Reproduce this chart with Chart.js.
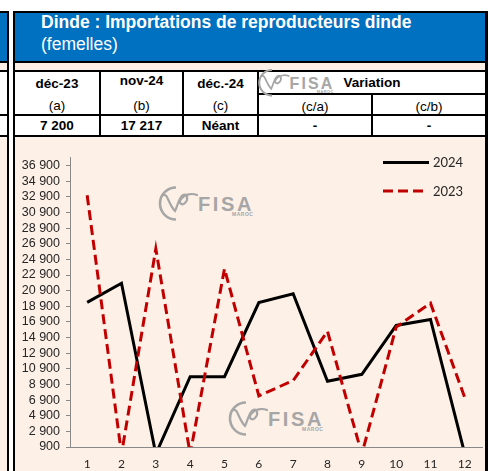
<!DOCTYPE html>
<html lang="fr">
<head>
<meta charset="utf-8">
<title>Dinde : Importations de reproducteurs dinde (femelles)</title>
<script src="https://cdn.jsdelivr.net/npm/chart.js@4.4.1/dist/chart.umd.min.js"></script>
<style>
  html, body { margin: 0; padding: 0; background: #fff; }
  body { width: 495px; height: 471px; position: relative; overflow: hidden; font-family: "Liberation Sans", Arial, sans-serif; }
  .ln { position: absolute; background: #000; }
  .blue { position: absolute; background: #0070c0; }
  .peach { position: absolute; background: #fdf0e6; }
  .title { position: absolute; left: 41px; top: 11px; color: #fff; font-size: 17.5px; line-height: 22px; white-space: nowrap; }
  .txt { position: absolute; text-align: center; font-size: 13.5px; line-height: 16px; color: #000; white-space: nowrap; }
  .b { font-weight: bold; }
  .wm { position: absolute; width: 100px; height: 36px; transform-origin: 0 0; }
  .wm svg { position: absolute; left: 0; top: 0; }
  .wm .fisa { position: absolute; left: 42px; top: 9.4px; font-size: 20px; line-height: 20px; font-weight: bold; letter-spacing: 2.6px; color: #a6a6a6; }
  .wm .maroc { position: absolute; left: 76px; top: 27px; font-size: 5px; line-height: 5px; font-weight: bold; letter-spacing: 0.5px; color: #a6a6a6; }
  #chartBox { position: absolute; left: 15px; top: 137px; width: 470px; height: 334px; }
</style>
</head>
<body>
<!-- left neighbour panel -->
<div class="blue" style="left:0;top:13px;width:7px;height:48px"></div>
<div class="peach" style="left:0;top:63px;width:7px;height:7px"></div>
<div class="peach" style="left:0;top:137px;width:7px;height:334px"></div>
<div class="ln" style="left:0;top:11px;width:9px;height:2px"></div>
<div class="ln" style="left:0;top:61px;width:9px;height:2px"></div>
<div class="ln" style="left:0;top:70px;width:9px;height:2px"></div>
<div class="ln" style="left:0;top:114px;width:9px;height:2px"></div>
<div class="ln" style="left:0;top:135px;width:9px;height:2px"></div>

<!-- main panel -->
<div class="blue" style="left:15px;top:13px;width:470px;height:48px"></div>
<div class="peach" style="left:15px;top:63px;width:470px;height:7px"></div>
<div class="peach" style="left:15px;top:137px;width:470px;height:334px"></div>
<div class="ln" style="left:13px;top:11px;width:475px;height:2px"></div>
<div class="ln" style="left:13px;top:61px;width:475px;height:2px"></div>
<div class="ln" style="left:13px;top:70px;width:475px;height:2px"></div>
<div class="ln" style="left:257px;top:93px;width:231px;height:2px"></div>
<div class="ln" style="left:13px;top:114px;width:475px;height:2px"></div>
<div class="ln" style="left:13px;top:135px;width:475px;height:2px"></div>
<div class="ln" style="left:99px;top:72px;width:2px;height:63px"></div>
<div class="ln" style="left:182px;top:72px;width:2px;height:63px"></div>
<div class="ln" style="left:257px;top:72px;width:2px;height:63px"></div>
<div class="ln" style="left:371px;top:93px;width:2px;height:42px"></div>
<div class="ln" style="left:7px;top:11px;width:2px;height:460px"></div>
<div class="ln" style="left:13px;top:11px;width:2px;height:460px"></div>
<div class="ln" style="left:485px;top:11px;width:3px;height:460px"></div>

<div class="title"><b>Dinde : Importations de reproducteurs dinde</b><br>(femelles)</div>

<div class="txt b" style="left:15px;width:84px;top:75.5px">déc-23</div>
<div class="txt b" style="left:101px;width:81px;top:73.3px">nov-24</div>
<div class="txt b" style="left:184px;width:73px;top:75.5px">déc.-24</div>
<div class="txt b" style="left:259px;width:226px;top:74.6px">Variation</div>
<div class="txt" style="left:15px;width:84px;top:97.8px">(a)</div>
<div class="txt" style="left:101px;width:81px;top:97.8px">(b)</div>
<div class="txt" style="left:184px;width:73px;top:97.8px">(c)</div>
<div class="txt" style="left:259px;width:112px;top:99px">(c/a)</div>
<div class="txt" style="left:373px;width:112px;top:99px">(c/b)</div>
<div class="txt b" style="left:15px;width:84px;top:118.3px">7 200</div>
<div class="txt b" style="left:101px;width:81px;top:118.3px">17 217</div>
<div class="txt b" style="left:184px;width:73px;top:118.3px">Néant</div>
<div class="txt b" style="left:259px;width:112px;top:118.3px">-</div>
<div class="txt b" style="left:373px;width:112px;top:118.3px">-</div>

<div id="marks"></div>

<div id="chartBox"><canvas id="importChart" width="470" height="334"></canvas></div>

<script>
const months = ['1', '2', '3', '4', '5', '6', '7', '8', '9', '10', '11', '12'];
const seriesNames = ['2024', '2023'];
const imports2024 = [19400, 21850, 0, 9900, 9900, 19370, 20500, 9300, 10200, 16450, 17217, 0];
const imports2023 = [33100, 0, 26250, 0, 23700, 7450, 9400, 15700, 0, 16250, 19300, 7200];
const yTicks = [900, 2900, 4900, 6900, 8900, 10900, 12900, 14900, 16900, 18900,
                20900, 22900, 24900, 26900, 28900, 30900, 32900, 34900, 36900];

/* FISA watermarks */
const markSpots = [[156, 185, 1], [226, 400, 1], [256, 68, 0.8]];
const markHtml =
  '<svg width="46" height="38" viewBox="0 0 46 38">' +
  '<path d="M 20 2.5 A 16 16 0 0 0 20 34.5" fill="none" stroke="#a6a6a6" stroke-width="2.6"/>' +
  '<path d="M 8 10 C 11 8 13 20 19 26 C 22 20 23 12 27 10 C 31 8 33 14 29 18 C 26 21 22 18 25 14 C 29 9 36 8 41 10" fill="none" stroke="#a6a6a6" stroke-width="2.2" stroke-linecap="round"/>' +
  '</svg><div class="fisa">FISA</div><div class="maroc">MAROC</div>';
const marksBox = document.getElementById('marks');
markSpots.forEach(([x, y, s]) => {
  const d = document.createElement('div');
  d.className = 'wm';
  d.style.left = x + 'px';
  d.style.top = y + 'px';
  d.style.transform = 'scale(' + s + ')';
  d.innerHTML = markHtml;
  marksBox.appendChild(d);
});

/* legend drawn inside the plot, top right */
const insideLegend = {
  id: 'insideLegend',
  afterDraw(chart) {
    const { ctx, chartArea } = chart;
    const x0 = chartArea.right - 99;
    chart.data.datasets.forEach((ds, i) => {
      const y = chartArea.top + 5.5 + i * 28.5;
      ctx.save();
      ctx.strokeStyle = ds.borderColor;
      ctx.lineWidth = ds.borderWidth;
      ctx.setLineDash(ds.borderDash || []);
      ctx.beginPath();
      ctx.moveTo(x0, y);
      ctx.lineTo(x0 + (ds.borderDash ? 42 : 46), y);
      ctx.stroke();
      ctx.setLineDash([]);
      ctx.fillStyle = '#262626';
      ctx.font = '13px Lato';
      ctx.textBaseline = 'middle';
      ctx.fillText(ds.label, x0 + 50, y + 0.5);
      ctx.restore();
    });
  }
};

const fmt = v => String(v).replace(/\B(?=(\d{3})+(?!\d))/g, ' ');

new Chart(document.getElementById('importChart'), {
  type: 'line',
  data: {
    labels: months,
    datasets: [
      {
        label: seriesNames[0],
        data: imports2024,
        borderColor: '#000000',
        borderWidth: 3,
        pointRadius: 0,
        tension: 0,
        order: 1
      },
      {
        label: seriesNames[1],
        data: imports2023,
        borderColor: '#c00000',
        borderWidth: 3,
        borderDash: [10, 5],
        pointRadius: 0,
        tension: 0,
        order: 0
      }
    ]
  },
  options: {
    responsive: false,
    animation: false,
    layout: { padding: { top: 20, right: 3, left: 0, bottom: 0 } },
    plugins: {
      legend: { display: false },
      tooltip: { enabled: false }
    },
    scales: {
      x: {
        offset: true,
        grid: { display: false, drawTicks: false },
        border: { display: true, color: '#898989', width: 1 },
        ticks: { color: '#262626', padding: 10, font: { family: 'Lato', size: 12 } },
        afterFit: s => { s.height = 24; }
      },
      y: {
        min: 900,
        max: 38000,
        grid: { drawOnChartArea: false, drawTicks: true, tickLength: 4, color: '#898989' },
        border: { display: true, color: '#898989', width: 1 },
        ticks: {
          color: '#262626',
          padding: 6,
          autoSkip: false,
          font: { family: 'Liberation Sans', size: 12.5 },
          callback: v => fmt(v)
        },
        afterBuildTicks: s => { s.ticks = yTicks.map(v => ({ value: v })); },
        afterFit: s => { s.width = 55; }
      }
    }
  },
  plugins: [insideLegend]
});
</script>
</body>
</html>
